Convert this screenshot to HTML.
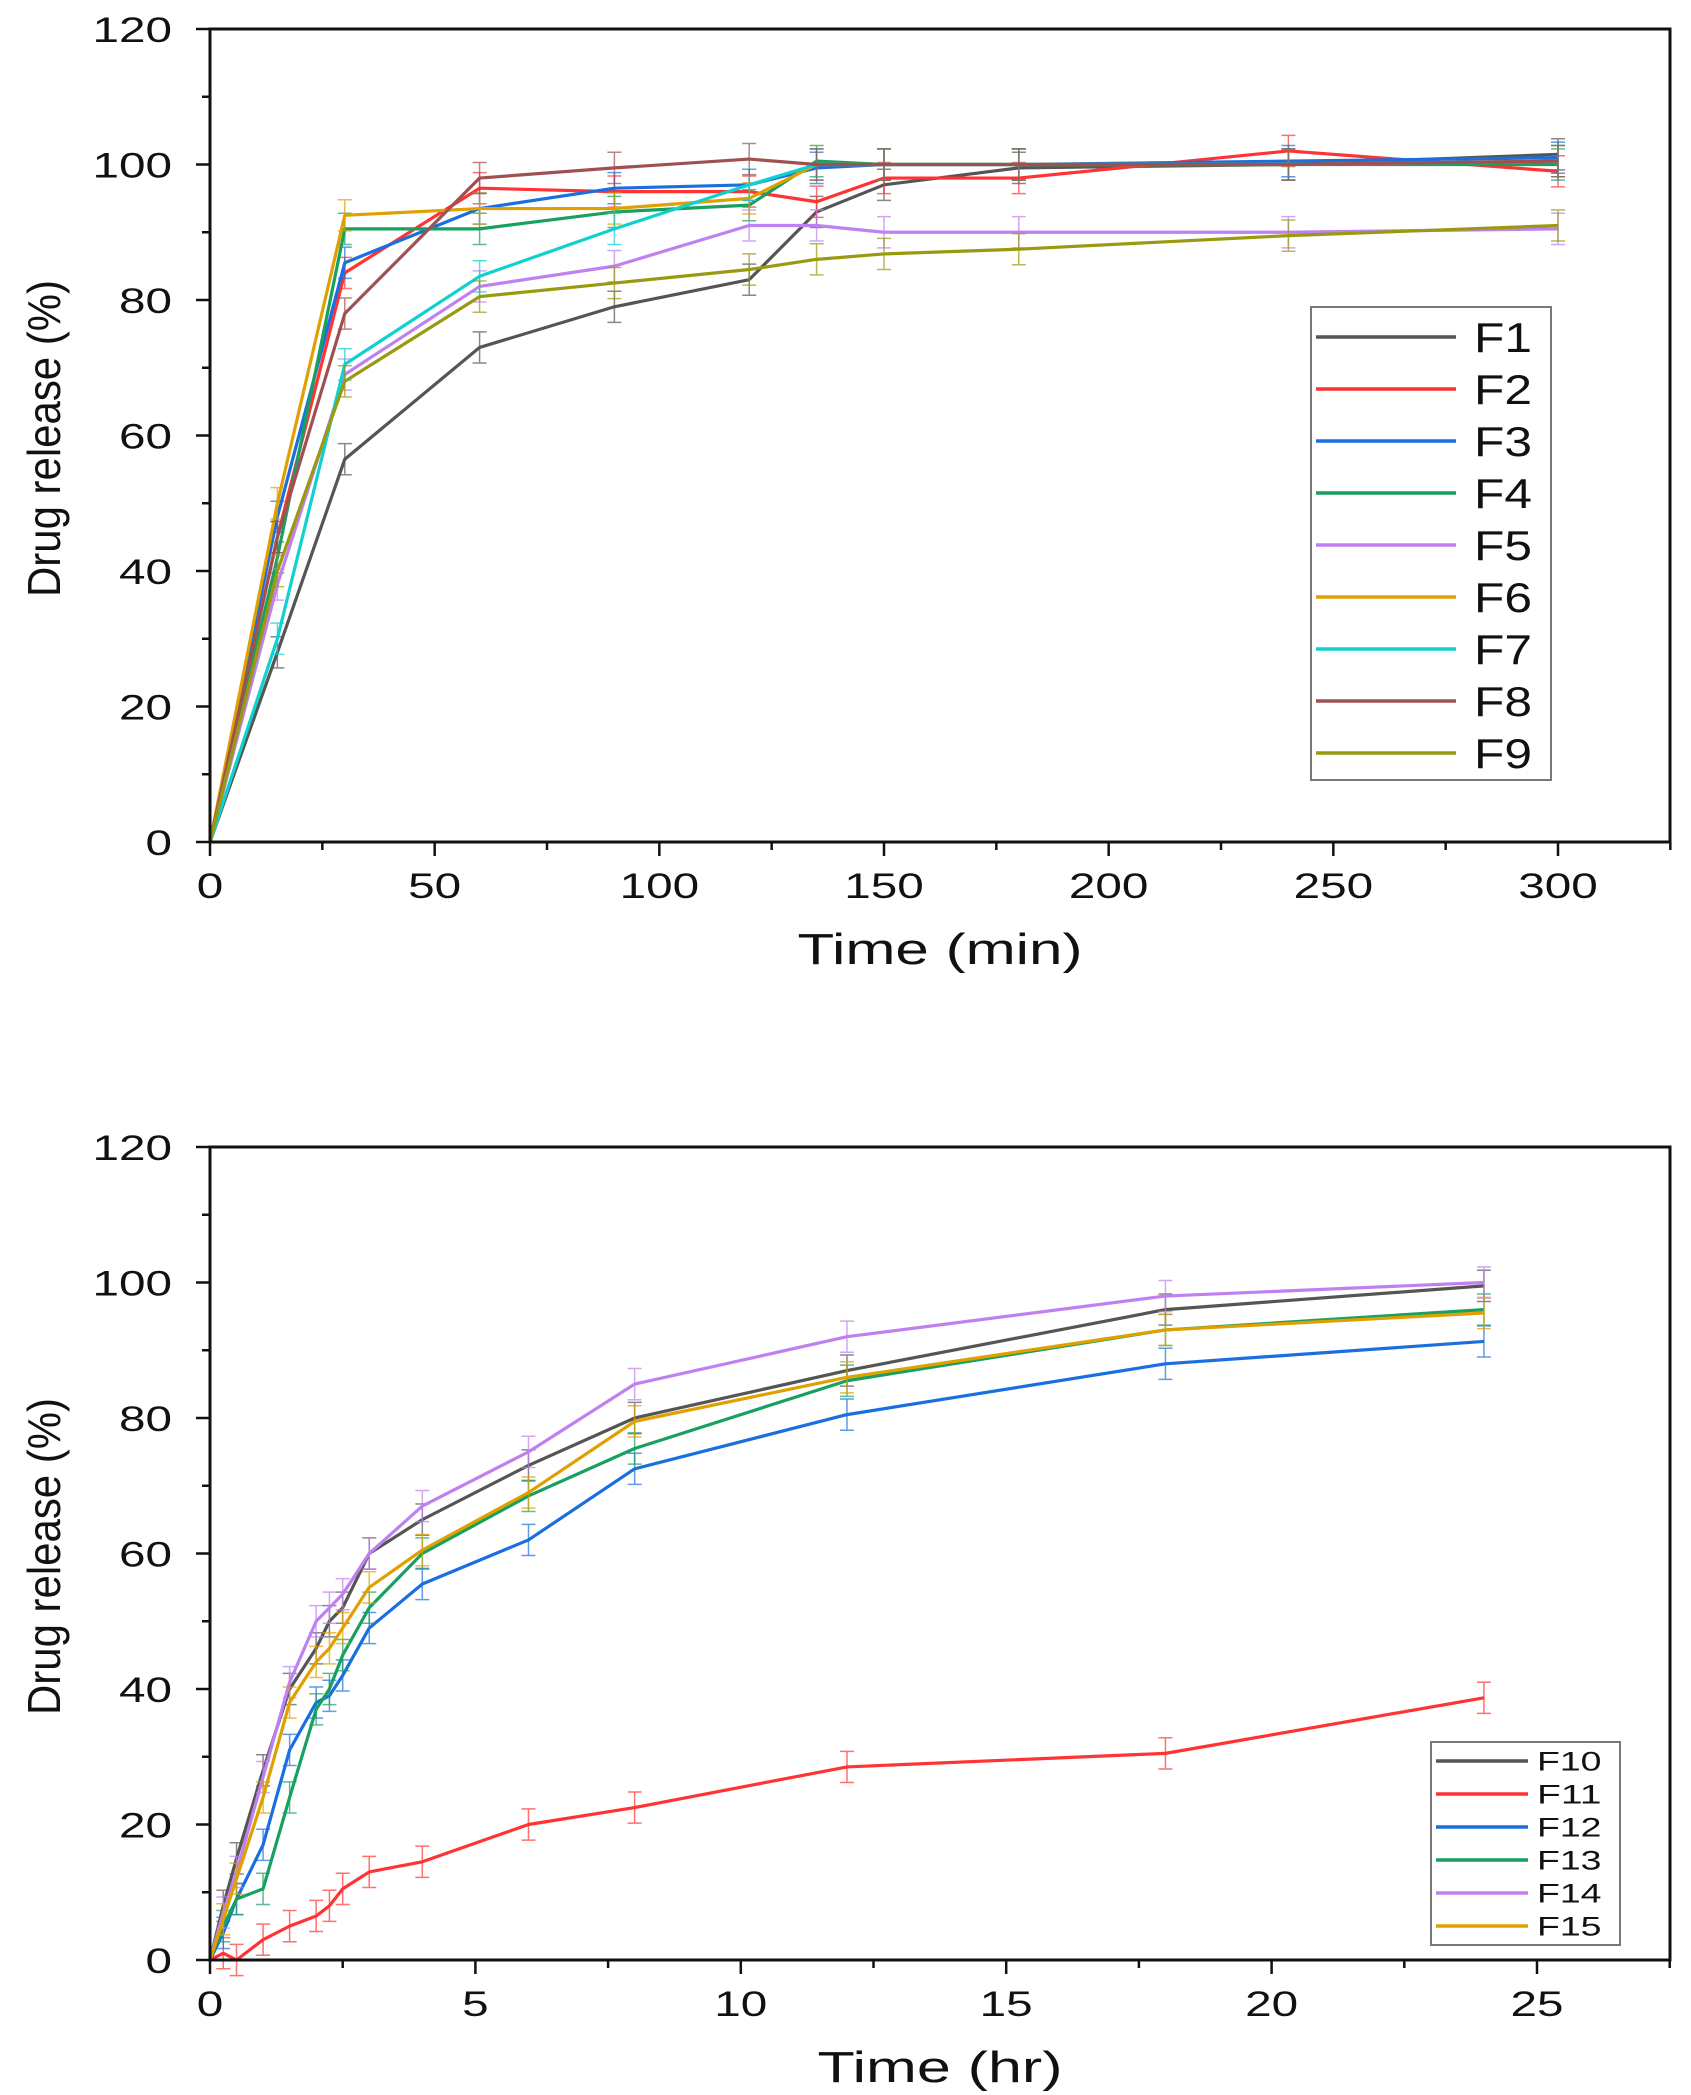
<!DOCTYPE html>
<html><head><meta charset="utf-8"><style>
html,body{margin:0;padding:0;background:#fff}
svg{display:block;font-family:"Liberation Sans",sans-serif}
</style></head><body>
<svg id="s" width="1691" height="2095" viewBox="0 0 1691 2095"></svg>
<script>
const NS="http://www.w3.org/2000/svg";
const svg=document.getElementById('s');
// ---- chart 1 data ----
const t1=[0,15,30,60,90,120,135,150,180,240,300];
const names1=["F1","F2","F3","F4","F5","F6","F7","F8","F9"];
const F1=[0,28,56.5,73,79,83,93,97,99.5,100,101.5];
const F2=[0,45,84,96.5,96,96,94.5,98,98,102,99];
const F3=[0,48,85.5,93.5,96.5,97,99.5,100,100,100.5,101];
const F4=[0,42,90.5,90.5,93,94,100.5,100,100,100,100];
const F5=[0,38,69,82,85,91,91,90,90,90,90.5];
const F6=[0,50,92.5,93.5,93.5,95,100,100,100,100,100.5];
const F7=[0,30,70.5,83.5,90.5,97,100,100,100,100,100.5];
const F8=[0,45,78,98,99.5,100.8,100,100,100,100,100.5];
const F9=[0,40,68,80.5,82.5,84.5,86,86.8,87.5,89.5,91];
const xTicks1=[0,50,100,150,200,250,300];
const yTicks=[0,20,40,60,80,100,120];
// ---- chart 2 data ----
const t2=[0,0.25,0.5,1,1.5,2,2.25,2.5,3,4,6,8,12,18,24];
const names2=["F10","F11","F12","F13","F14","F15"];
const F10=[0,8,15,28,40,46,50,52,60,65,73,80,87,96,99.5];
const F11=[0,1,0,3,5,6.5,8,10.5,13,14.5,20,22.5,28.5,30.5,38.7];
const F12=[0,4,9,17,31,38,39,42,49,55.5,62,72.5,80.5,88,91.3];
const F13=[0,5,9,10.5,24,37,40,45,52,60,68.5,75.5,85.5,93,96];
const F14=[0,7,13,27,41,50,52,54,60,67,75,85,92,98,100];
const F15=[0,6,12,24,38,44,46,49,55,60.5,69,79.5,86,93,95.5];
const xTicks2=[0,5,10,15,20,25];
const cols1=["#555555","#ff3333","#1a6fe0","#18a060","#c080f0","#e0a000","#10d0d0","#a05050","#9a9a10"];
const cols2=["#555555","#ff3333","#1a6fe0","#18a060","#c080f0","#e0a000"];

function el(tag,a,parent){const e=document.createElementNS(NS,tag);for(const k in a)e.setAttribute(k,a[k]);(parent||svg).appendChild(e);return e;}

function chart(cfg){
  const g=el('g',{});
  
  
  const {L,R,T,B,xmax,x0v}=cfg;
  const X=v=>L+(v/x0v)*(cfg.xEnd-L);
  const Y=v=>B-(v/120)*(B-T);
  cfg.series.forEach((d,i)=>{
    const sg=el('g',{},g);
    
    
    d.forEach((v,j)=>{if(j===0)return;const x=X(cfg.t[j]);
      el('path',{d:`M${x},${Y(v+2.3)}V${Y(v-2.3)}M${x-7},${Y(v+2.3)}h14M${x-7},${Y(v-2.3)}h14`,stroke:cfg.cols[i],'stroke-width':1.5,fill:'none',opacity:0.7},sg);});
    el('polyline',{points:d.map((v,j)=>X(cfg.t[j])+','+Y(v)).join(' '),fill:'none',stroke:cfg.cols[i],'stroke-width':3.2,'stroke-linejoin':'round'},sg);
  });
  const fr=el('rect',{x:L,y:T,width:R-L,height:B-T,fill:'none',stroke:'#111','stroke-width':3},g);
  
  
  for(let v=0;v<=120;v+=10){const y=Y(v);el('line',{x1:L-(v%20===0?14:8),x2:L,y1:y,y2:y,stroke:'#111','stroke-width':2.5},g);}
  yTicks.forEach(v=>{const s=String(v);const t=el('text',{x:L-38,y:Y(v)+13,'text-anchor':'end','font-size':35,fill:'#111',textLength:s.length*26.5,lengthAdjust:'spacingAndGlyphs'},g);t.textContent=s;
    });
  for(let v=0;v<=xmax+1e-6;v+=cfg.minor){const x=X(v);const maj=Math.abs(v/cfg.major-Math.round(v/cfg.major))<1e-6;el('line',{x1:x,x2:x,y1:B,y2:B+(maj?14:8),stroke:'#111','stroke-width':2.5},g);}
  cfg.xTicks.forEach(v=>{const s=String(v);const t=el('text',{x:X(v),y:B+56,'text-anchor':'middle','font-size':35,fill:'#111',textLength:s.length*26.5,lengthAdjust:'spacingAndGlyphs'},g);t.textContent=s;
    });
  const xt=el('text',{x:940,y:B+122,'text-anchor':'middle','font-size':44,fill:'#111',textLength:cfg.xTitleW,lengthAdjust:'spacingAndGlyphs'},g);xt.textContent=cfg.xTitle;
  
  const yt=el('text',{x:0,y:0,'text-anchor':'middle','font-size':46,fill:'#111',textLength:317,lengthAdjust:'spacingAndGlyphs',transform:`translate(60,${(T+B)/2+3}) rotate(-90)`},g);yt.textContent='Drug release (%)';
  
  const lg=el('g',{},g);
  
  
  const Lg=cfg.leg;
  el('rect',{x:Lg.x,y:Lg.y,width:Lg.w,height:Lg.h,fill:'#fff',stroke:'#777','stroke-width':2},lg);
  cfg.names.forEach((n,i)=>{const y=Lg.y0+i*Lg.dy;
    const e=el('g',{},lg);
    
    
    el('line',{x1:Lg.x+5,x2:Lg.lx2,y1:y,y2:y,stroke:cfg.cols[i],'stroke-width':3.5},e);
    const t=el('text',{x:Lg.tx,y:y+Lg.fs*0.36,'font-size':Lg.fs,fill:'#111',textLength:n.length*Lg.cw,lengthAdjust:'spacingAndGlyphs'},e);t.textContent=n;});
}
chart({name:'chart-time-min',L:210,R:1670,T:29,B:842,xEnd:1558,x0v:300,xmax:325,minor:25,major:50,t:t1,series:[F1,F2,F3,F4,F5,F6,F7,F8,F9],names:names1,cols:cols1,xTicks:xTicks1,xTitle:'Time (min)',xTitleW:285,
  leg:{x:1311,y:307,w:240,h:473,y0:337,dy:52,lx2:1456,tx:1474,fs:42,cw:29}});
chart({name:'chart-time-hr',L:210,R:1670,T:1147,B:1960,xEnd:1537,x0v:25,xmax:27.5,minor:2.5,major:5,t:t2,series:[F10,F11,F12,F13,F14,F15],names:names2,cols:cols2,xTicks:xTicks2,xTitle:'Time (hr)',xTitleW:245,
  leg:{x:1431,y:1742,w:189,h:203,y0:1761,dy:33,lx2:1528,tx:1537,fs:27,cw:21.5}});
</script>
</body></html>
